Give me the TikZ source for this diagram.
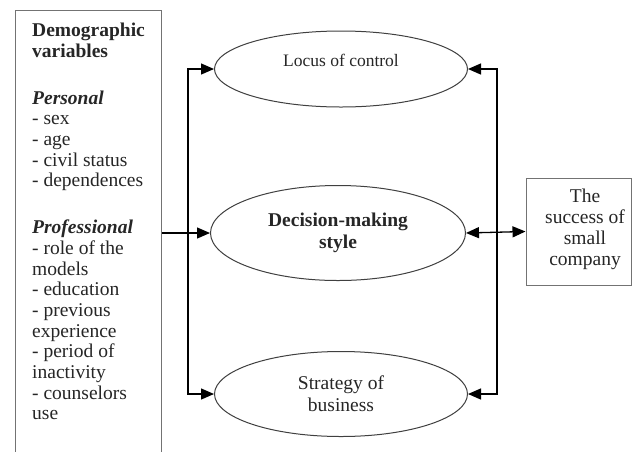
\documentclass[tikz,border=0pt]{standalone}
\usepackage{fontspec}
\setmainfont{Liberation Serif}
\usetikzlibrary{shapes.geometric,arrows.meta}
\begin{document}
\begin{tikzpicture}[x=1pt,y=-1pt,
  txt/.style={font=\fontsize{19.5}{20.7}\selectfont, text=black!85, inner sep=0pt},
  oval/.style={ellipse, draw=black!75, line width=1pt, inner sep=0pt, txt},
  frame/.style={rectangle, draw=black!55, line width=1pt, inner sep=0pt, txt},
  link/.style={line width=1.3pt, -{Triangle[length=13pt,width=11pt]}},
  duallink/.style={line width=1.3pt, {Triangle[length=13pt,width=11pt]}-{Triangle[length=13pt,width=11pt]}}]
\useasboundingbox (0,0) rectangle (632,451);
\clip (0,0) rectangle (632,451);
\fill[white] (0,0) rectangle (632,451);

% left column: the frame runs on past the lower edge
\node[frame, anchor=north west, minimum width=146pt, minimum height=480pt] (lbox) at (15,10) {};
\node[txt, anchor=north west, align=left] (vars) at (32,23) {%
  \textbf{Demographic}\\ \textbf{variables}\\[26pt]
  \textbf{\textit{Personal}}\\ - sex\\ - age\\ - civil status\\ - dependences\\[26pt]
  \textbf{\textit{Professional}}\\ - role of the\\ models\\ - education\\ - previous\\
  experience\\ - period of\\ inactivity\\ - counselors\\ use};

% the three mediating factors
\node[oval, minimum width=253pt, minimum height=76pt] (e1) at (341,69) {};
\node[txt, font=\fontsize{17.5}{20}\selectfont] (e1t) at (341,60) {Locus of control};
\node[oval, minimum width=255pt, minimum height=95pt, align=center,
  font=\fontsize{19.5}{22}\selectfont] (e2) at (338,233)
  {\textbf{Decision-making}\\ \textbf{style}};
\node[oval, minimum width=253pt, minimum height=85pt, align=center,
  font=\fontsize{19.5}{22}\selectfont] (e3) at (341,394)
  {Strategy of\\ business};

% outcome
\node[frame, minimum width=105pt, minimum height=107pt] (succ) at (578.5,231.5) {};
\node[txt, align=center, font=\fontsize{19.5}{21}\selectfont] (succt) at (585,229)
  {The\\ success of\\ small\\ company};

% connectors
\coordinate (jl) at (188,233);
\coordinate (jr) at (497,233);
\draw[link] (lbox.east |- e2.west) -- (e2.west);
\draw[link] (jl) |- (e1.west);
\draw[link] (jl) |- (e3.west);
\draw[link] (jr) |- (e1.east);
\draw[link] (jr) |- (e3.east);
\draw[duallink] (e2.east) -- (succ.west);
\end{tikzpicture}
\end{document}
